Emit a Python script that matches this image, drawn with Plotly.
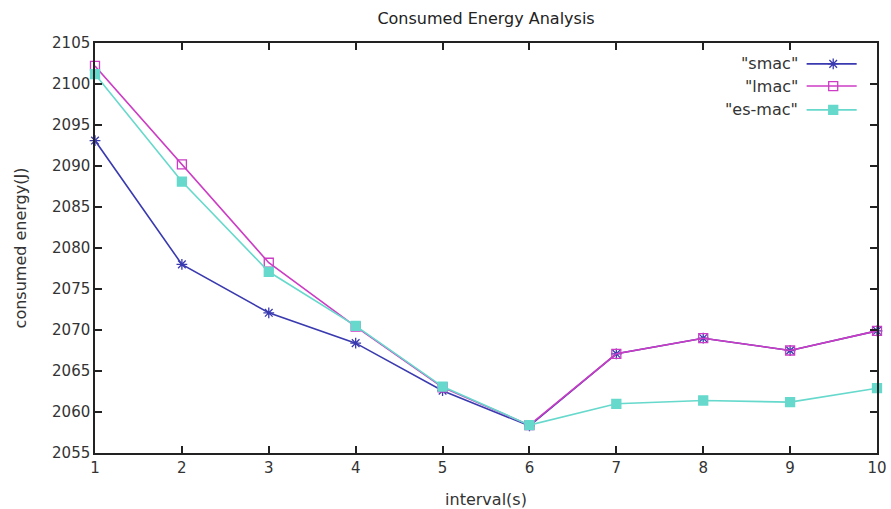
import plotly.graph_objects as go

intervals = [1, 2, 3, 4, 5, 6, 7, 8, 9, 10]
smac = [2093.1, 2078.0, 2072.1, 2068.4, 2062.6, 2058.3, 2067.1, 2069.0, 2067.5, 2069.9]
lmac = [2102.2, 2090.2, 2078.2, 2070.4, 2063.0, 2058.4, 2067.1, 2069.0, 2067.5, 2069.9]
esmac = [2101.2, 2088.1, 2077.1, 2070.5, 2063.1, 2058.4, 2061.0, 2061.4, 2061.2, 2062.9]
series_names = ['"smac"', '"lmac"', '"es-mac"']
colors = ["#3a3ab0", "#cc3cc4", "#66d9cc"]
symbols = ["asterisk-open", "square-open", "square"]
y_ticks = [2055, 2060, 2065, 2070, 2075, 2080, 2085, 2090, 2095, 2100, 2105]

FONT = "DejaVu Sans"
fig = go.Figure()
for vals, name, col, sym in zip([smac, lmac, esmac], series_names, colors, symbols):
    fig.add_trace(go.Scatter(
        x=intervals, y=vals, mode="lines+markers", name=name,
        line=dict(color=col, width=1.6),
        marker=dict(symbol=sym, size=9, color=col,
                    line=dict(color=col, width=1.3)),
        showlegend=False, cliponaxis=False))

# custom gnuplot-style key (text left of sample) on a hidden overlay axis
key_y = [0.949, 0.895, 0.837]
for name, col, sym, ky in zip(series_names, colors, symbols, key_y):
    fig.add_trace(go.Scatter(
        x=[0.910, 0.974], y=[ky, ky], mode="lines", xaxis="x2", yaxis="y2",
        line=dict(color=col, width=1.6), showlegend=False, hoverinfo="skip"))
    fig.add_trace(go.Scatter(
        x=[0.944], y=[ky], mode="markers", xaxis="x2", yaxis="y2",
        marker=dict(symbol=sym, size=9, color=col, line=dict(color=col, width=1.3)),
        showlegend=False, hoverinfo="skip"))
    fig.add_annotation(x=0.9015, y=ky, xref="x2", yref="y2", text=name,
                       showarrow=False, xanchor="right", yanchor="middle",
                       font=dict(family=FONT, size=16, color="#333"))

axis_common = dict(showline=True, linecolor="#222", linewidth=1.5, mirror="ticks",
                   ticks="inside", ticklen=7, tickwidth=1.5, tickcolor="#222",
                   showgrid=False, zeroline=False, automargin=False,
                   tickfont=dict(family=FONT, size=15, color="#333"))
fig.update_layout(
    width=891, height=509,
    paper_bgcolor="white", plot_bgcolor="white",
    margin=dict(l=95, r=14, t=43, b=56),
    title=dict(text="Consumed Energy Analysis", x=0.5455, xanchor="center",
               y=0.9646, yanchor="middle",
               font=dict(family=FONT, size=16, color="#222")),
    xaxis=dict(range=[1, 10], tickvals=intervals, title=dict(
        text="interval(s)", standoff=23,
        font=dict(family=FONT, size=16, color="#333")), **axis_common),
    yaxis=dict(range=[2055, 2105], tickvals=y_ticks, title=dict(
        text="consumed energy(J)", standoff=21,
        font=dict(family=FONT, size=16, color="#333")), **axis_common),
    xaxis2=dict(overlaying="x", range=[0, 1], visible=False),
    yaxis2=dict(overlaying="y", range=[0, 1], visible=False),
)
fig.write_html("out.html",
               config={"displayModeBar": False},
               post_script="document.body.style.margin='0';"
                           "document.body.style.overflow='hidden';")
